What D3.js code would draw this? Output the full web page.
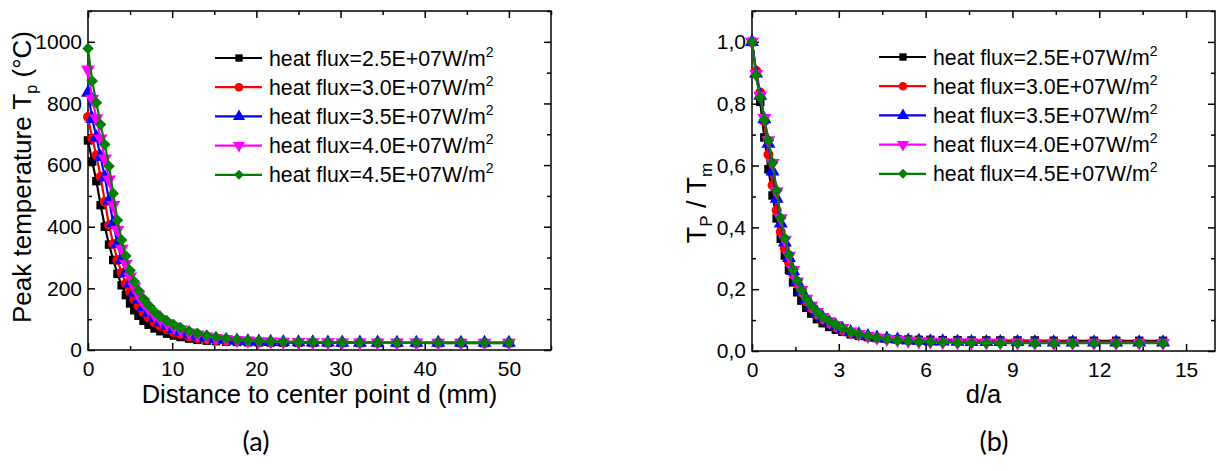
<!DOCTYPE html>
<html>
<head>
<meta charset="utf-8">
<script src="https://cdn.jsdelivr.net/npm/d3@7"></script>
<style>
body { margin: 0; background: #fff; }
text { font-family: Arial, "Liberation Sans", sans-serif; }
</style>
</head>
<body>
<div id="chart"></div>
<script>
// Distance to center point d (mm), shared by every series
const distance = [0, 0.5, 1, 1.5, 2, 2.5, 3, 3.5, 4, 4.5,
  5, 5.5, 6, 6.6, 7.2, 7.9, 8.6, 9.4, 10.2, 11,
  12, 13, 14.1, 15.2, 16.4, 17.7, 19, 20.3, 21.7, 23.2,
  25, 26.7, 28.5, 30.2, 32.3, 34.4, 36.7, 39, 41.6, 44.3,
  47.1, 50];

// Same points as d/a
const distanceRatio = [0, 0.142, 0.284, 0.426, 0.568, 0.710, 0.852, 0.994, 1.136, 1.278,
  1.420, 1.563, 1.705, 1.875, 2.045, 2.244, 2.443, 2.670, 2.898, 3.125,
  3.409, 3.693, 4.006, 4.318, 4.659, 5.028, 5.398, 5.767, 6.165, 6.591,
  7.102, 7.585, 8.097, 8.580, 9.176, 9.773, 10.426, 11.080, 11.818, 12.585,
  13.381, 14.205];

const fluxLabels = ["2.5E+07", "3.0E+07", "3.5E+07", "4.0E+07", "4.5E+07"];

// Peak temperature Tp (°C), panel (a)
const tempFlux25 = [680, 612, 548, 470, 400, 342, 292, 247, 210, 178,
  151, 129, 111, 95, 82, 70, 61, 53, 47, 42,
  37, 33, 30.5, 28.5, 27, 26, 25.2, 24.6, 24.2, 23.8,
  23.5, 23.3, 23.1, 23.0, 22.9, 22.8, 22.7, 22.7, 22.6, 22.6,
  22.5, 22.5];
const tempFlux30 = [756, 686, 632, 562, 481, 405, 344, 292, 251, 216,
  189, 164, 143, 122, 105, 90, 78, 67, 58, 51,
  44, 39, 35, 32, 29.5, 27.8, 26.6, 25.7, 25, 24.5,
  24.1, 23.8, 23.6, 23.4, 23.3, 23.2, 23.1, 23.0, 23.0, 22.9,
  22.9, 22.9];
const tempFlux35 = [835, 750, 690, 626, 560, 485, 412, 345, 293, 251,
  216, 187, 163, 140, 121, 104, 90, 78, 68, 60,
  51, 45, 40, 36, 33, 30.5, 28.7, 27.3, 26.3, 25.5,
  24.9, 24.5, 24.2, 24.0, 23.8, 23.7, 23.6, 23.5, 23.5, 23.4,
  23.4, 23.4];
const tempFlux40 = [910, 815, 752, 686, 621, 553, 470, 390, 328, 280,
  238, 205, 179, 154, 133, 115, 100, 87, 76, 67,
  57, 50, 44, 39, 35.5, 32.5, 30.3, 28.6, 27.3, 26.3,
  25.6, 25.1, 24.7, 24.4, 24.2, 24.0, 23.9, 23.8, 23.7, 23.7,
  23.6, 23.6];
const tempFlux45 = [978, 873, 802, 732, 667, 596, 508, 421, 357, 305,
  258, 222, 193, 166, 145, 124, 108, 94, 82, 72,
  62, 54, 47.5, 42, 38, 34.5, 32, 30, 28.5, 27.2,
  26.2, 25.6, 25.1, 24.8, 24.6, 24.4, 24.3, 24.2, 24.1, 24.0,
  24.0, 24.0];

// Tp / Tm, panel (b)
const normFlux25 = [1.000, 0.900, 0.806, 0.691, 0.588, 0.503, 0.429, 0.363, 0.309, 0.262,
  0.222, 0.190, 0.163, 0.140, 0.121, 0.103, 0.090, 0.078, 0.069, 0.062,
  0.054, 0.049, 0.045, 0.042, 0.040, 0.038, 0.037, 0.036, 0.036, 0.035,
  0.035, 0.034, 0.034, 0.034, 0.034, 0.034, 0.033, 0.033, 0.033, 0.033,
  0.033, 0.033];
const normFlux30 = [1.000, 0.907, 0.836, 0.743, 0.636, 0.536, 0.455, 0.386, 0.332, 0.286,
  0.250, 0.217, 0.189, 0.161, 0.139, 0.119, 0.103, 0.089, 0.077, 0.067,
  0.058, 0.052, 0.046, 0.042, 0.039, 0.037, 0.035, 0.034, 0.033, 0.032,
  0.032, 0.031, 0.031, 0.031, 0.031, 0.031, 0.031, 0.030, 0.030, 0.030,
  0.030, 0.030];
const normFlux35 = [1.000, 0.898, 0.826, 0.750, 0.671, 0.581, 0.493, 0.413, 0.351, 0.301,
  0.259, 0.224, 0.195, 0.168, 0.145, 0.125, 0.108, 0.093, 0.081, 0.072,
  0.061, 0.054, 0.048, 0.043, 0.040, 0.037, 0.034, 0.033, 0.031, 0.031,
  0.030, 0.029, 0.029, 0.029, 0.029, 0.028, 0.028, 0.028, 0.028, 0.028,
  0.028, 0.028];
const normFlux40 = [1.000, 0.896, 0.826, 0.754, 0.682, 0.608, 0.516, 0.429, 0.360, 0.308,
  0.262, 0.225, 0.197, 0.169, 0.146, 0.126, 0.110, 0.096, 0.084, 0.074,
  0.063, 0.055, 0.048, 0.043, 0.039, 0.036, 0.033, 0.031, 0.030, 0.029,
  0.028, 0.028, 0.027, 0.027, 0.027, 0.026, 0.026, 0.026, 0.026, 0.026,
  0.026, 0.026];
const normFlux45 = [1.000, 0.893, 0.820, 0.748, 0.682, 0.609, 0.519, 0.430, 0.365, 0.312,
  0.264, 0.227, 0.197, 0.170, 0.148, 0.127, 0.110, 0.096, 0.084, 0.074,
  0.063, 0.055, 0.049, 0.043, 0.039, 0.035, 0.033, 0.031, 0.029, 0.028,
  0.027, 0.026, 0.026, 0.025, 0.025, 0.025, 0.025, 0.025, 0.025, 0.025,
  0.025, 0.025];

// Tick values
const tempXTicks = [0, 10, 20, 30, 40, 50];
const tempXMinor = [5, 15, 25, 35, 45, 55];
const tempYTicks = [0, 200, 400, 600, 800, 1000];
const tempYMinor = [100, 300, 500, 700, 900, 1100];
const ratioXTicks = [0, 3, 6, 9, 12, 15];
const ratioXMinor = [1.5, 4.5, 7.5, 10.5, 13.5];
const ratioYTicks = [0, 0.2, 0.4, 0.6, 0.8, 1.0];
const ratioYMinor = [0.1, 0.3, 0.5, 0.7, 0.9, 1.1];

const colors = ["#000000", "#ff0000", "#0000ff", "#ff00ff", "#008000"];
const symbols = [
  {type: d3.symbolSquare, size: 72, rot: 0},
  {type: d3.symbolCircle, size: 78, rot: 0},
  {type: d3.symbolTriangle, size: 85, rot: 0},
  {type: d3.symbolTriangle, size: 85, rot: 180},
  {type: d3.symbolDiamond2, size: 85, rot: 0}
];

const width = 1217, height = 471;
const svg = d3.select("#chart").append("svg")
  .attr("width", width)
  .attr("height", height);

const commaLocale = d3.formatLocale({decimal: ",", thousands: ".", grouping: [3], currency: ["", ""]});

function drawPanel(p) {
  const g = svg.append("g");
  const x = d3.scaleLinear().domain(p.xDomain).range([p.left, p.right]);
  const y = d3.scaleLinear().domain(p.yDomain).range([p.bottom, p.top]);

  function styleAxis(a) {
    a.select(".domain").remove();
    a.selectAll(".tick line").attr("stroke", "#000").attr("stroke-width", 1.5);
    a.attr("font-size", 21).attr("font-family", "Arial, 'Liberation Sans', sans-serif");
    a.selectAll(".tick text").attr("fill", "#000");
  }

  // bottom
  g.append("g").attr("transform", `translate(0,${p.bottom})`)
    .call(d3.axisBottom(x).tickValues(p.xTicks).tickSize(-7).tickPadding(11).tickFormat(p.xFormat))
    .call(styleAxis);
  g.append("g").attr("transform", `translate(0,${p.bottom})`)
    .call(d3.axisBottom(x).tickValues(p.xMinor).tickSize(-4).tickFormat(""))
    .call(styleAxis);
  // top
  g.append("g").attr("transform", `translate(0,${p.top})`)
    .call(d3.axisTop(x).tickValues(p.xTicks).tickSize(-7).tickFormat(""))
    .call(styleAxis);
  g.append("g").attr("transform", `translate(0,${p.top})`)
    .call(d3.axisTop(x).tickValues(p.xMinor).tickSize(-4).tickFormat(""))
    .call(styleAxis);
  // left
  g.append("g").attr("transform", `translate(${p.left},0)`)
    .call(d3.axisLeft(y).tickValues(p.yTicks).tickSize(-7).tickPadding(6).tickFormat(p.yFormat))
    .call(styleAxis);
  g.append("g").attr("transform", `translate(${p.left},0)`)
    .call(d3.axisLeft(y).tickValues(p.yMinor).tickSize(-4).tickFormat(""))
    .call(styleAxis);
  // right
  g.append("g").attr("transform", `translate(${p.right},0)`)
    .call(d3.axisRight(y).tickValues(p.yTicks).tickSize(-7).tickFormat(""))
    .call(styleAxis);
  g.append("g").attr("transform", `translate(${p.right},0)`)
    .call(d3.axisRight(y).tickValues(p.yMinor).tickSize(-4).tickFormat(""))
    .call(styleAxis);

  g.append("rect")
    .attr("x", p.left).attr("y", p.top)
    .attr("width", p.right - p.left).attr("height", p.bottom - p.top)
    .attr("fill", "none").attr("stroke", "#000").attr("stroke-width", 1.5);

  const line = d3.line().x(d => x(d[0])).y(d => y(d[1]));

  p.series.forEach((ys, i) => {
    const pts = p.xs.map((v, j) => [v, ys[j]]);
    g.append("path").datum(pts)
      .attr("d", line)
      .attr("fill", "none")
      .attr("stroke", colors[i])
      .attr("stroke-width", 2.2);
    const sym = d3.symbol().type(symbols[i].type).size(symbols[i].size);
    g.append("g").selectAll("path")
      .data(pts)
      .join("path")
      .attr("transform", d => `translate(${x(d[0])},${y(d[1])}) rotate(${symbols[i].rot})`)
      .attr("d", sym)
      .attr("fill", colors[i]);
  });

  // legend
  fluxLabels.forEach((lab, i) => {
    const ly = p.legendY + i * 29.2;
    g.append("line")
      .attr("x1", p.legendX).attr("x2", p.legendX + 47)
      .attr("y1", ly).attr("y2", ly)
      .attr("stroke", colors[i]).attr("stroke-width", 2.2);
    g.append("path")
      .attr("transform", `translate(${p.legendX + 24},${ly}) rotate(${symbols[i].rot})`)
      .attr("d", d3.symbol().type(symbols[i].type).size(symbols[i].size * 0.75)())
      .attr("fill", colors[i]);
    const t = g.append("text")
      .attr("x", p.legendX + 54).attr("y", ly + 7.5)
      .attr("font-size", 21.3);
    t.append("tspan").text(`heat flux=${lab}W/m`);
    t.append("tspan").attr("font-size", 14).attr("dy", -9).text("2");
  });

  // x title
  g.append("text")
    .attr("x", (p.left + p.right) / 2).attr("y", 403)
    .attr("text-anchor", "middle")
    .attr("font-size", 25.5)
    .text(p.xTitle);

  p.yTitle(g);

  svg.append("text")
    .attr("x", p.captionX).attr("y", 451)
    .attr("text-anchor", "middle")
    .attr("font-size", 27)
    .style("font-family", "Lato, 'Open Sans', sans-serif")
    .text(p.caption);
}

drawPanel({
  left: 88, right: 551, top: 11, bottom: 350,
  xDomain: [0, 55], yDomain: [0, 1100],
  xTicks: tempXTicks, xMinor: tempXMinor,
  yTicks: tempYTicks, yMinor: tempYMinor,
  xFormat: d3.format("d"), yFormat: d3.format("d"),
  xs: distance,
  series: [tempFlux25, tempFlux30, tempFlux35, tempFlux40, tempFlux45],
  legendX: 215, legendY: 58,
  xTitle: "Distance to center point d (mm)",
  yTitle: g => {
    const t = g.append("text")
      .attr("transform", "translate(31,177) rotate(-90)")
      .attr("text-anchor", "middle")
      .attr("font-size", 26);
    t.append("tspan").text("Peak temperature T");
    t.append("tspan").attr("font-size", 16).attr("dy", 6).text("p");
    t.append("tspan").attr("dy", -6).text(" (\u00B0C)");
  },
  caption: "(a)", captionX: 256
});

drawPanel({
  left: 752, right: 1215, top: 11, bottom: 351,
  xDomain: [0, 16], yDomain: [0, 1.1],
  xTicks: ratioXTicks, xMinor: ratioXMinor,
  yTicks: ratioYTicks, yMinor: ratioYMinor,
  xFormat: d3.format("d"), yFormat: commaLocale.format(".1f"),
  xs: distanceRatio,
  series: [normFlux25, normFlux30, normFlux35, normFlux40, normFlux45],
  legendX: 879, legendY: 57,
  xTitle: "d/a",
  yTitle: g => {
    const t = g.append("text")
      .attr("transform", "translate(706,203) rotate(-90)")
      .attr("text-anchor", "middle")
      .attr("font-size", 27);
    t.append("tspan").text("T");
    t.append("tspan").attr("font-size", 17).attr("dy", 6).text("P");
    t.append("tspan").attr("dy", -6).text(" / T");
    t.append("tspan").attr("font-size", 17).attr("dy", 6).text("m");
  },
  caption: "(b)", captionX: 994
});
</script>
</body>
</html>
